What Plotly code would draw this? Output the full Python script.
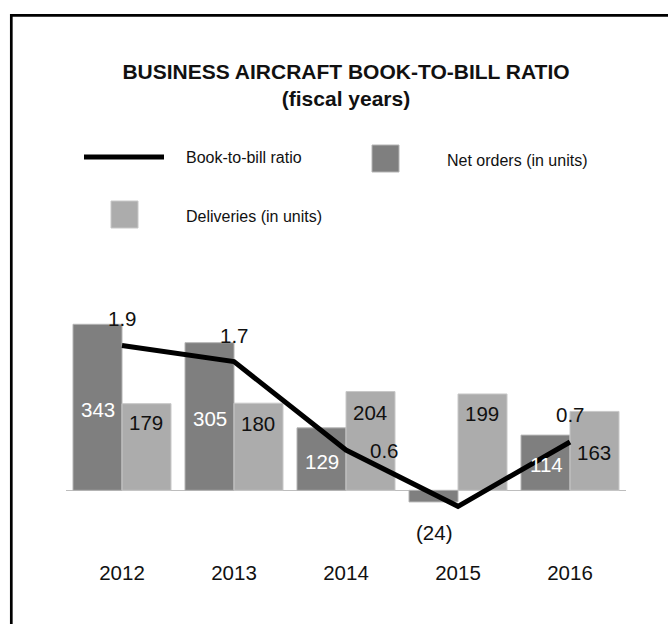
import plotly.graph_objects as go

# ---------------- data ----------------
years = ["2012", "2013", "2014", "2015", "2016"]
net_orders = [343, 305, 129, -24, 114]
deliveries = [179, 180, 204, 199, 163]
book_to_bill = [1.9, 1.7, 0.6, -0.1, 0.7]
ratio_labels = ["1.9", "1.7", "0.6", "", "0.7"]

# ---------------- layout constants (pixels) ----------------
W, H = 668, 624
PLOT_L, PLOT_R = 66, 626
PLOT_T, PLOT_B = 0, 558
Y0_PX, Y_SCALE = 490.3, 0.484       # zero line & px per unit (bars)
Y2_0_PX, Y2_SCALE = 498.3, 80.4     # zero & px per unit (ratio line)

FONT = "Liberation Sans, Arial, Helvetica, sans-serif"
DARK = "#7f7f7f"
LIGHT = "#acacac"
TXT = "#111111"


def pxx(p):
    return p / W


def pxy(p):
    return 1 - p / H


y_range = [-(PLOT_B - Y0_PX) / Y_SCALE, (Y0_PX - PLOT_T) / Y_SCALE]
y2_range = [-(PLOT_B - Y2_0_PX) / Y2_SCALE, (Y2_0_PX - PLOT_T) / Y2_SCALE]

fig = go.Figure()
fig.add_bar(x=years, y=net_orders, name="Net orders (in units)",
            marker=dict(color=DARK, line=dict(color="#b4b4b4", width=1)),
            showlegend=False, hoverinfo="skip")
fig.add_bar(x=years, y=deliveries, name="Deliveries (in units)",
            marker=dict(color=LIGHT, line=dict(color="#c8c8c8", width=1)),
            showlegend=False, hoverinfo="skip")
fig.add_scatter(x=years, y=book_to_bill, name="Book-to-bill ratio", mode="lines",
                line=dict(color="black", width=5), yaxis="y2",
                showlegend=False, hoverinfo="skip")

annotations = []
LBL = 20.5
# net orders labels (x given as category index)
for i, v in enumerate(net_orders):
    if v >= 0:
        annotations.append(dict(x=i, y=v / 2, xref="x", yref="y", text=str(v),
                                showarrow=False, xshift=-24, yshift=-2,
                                font=dict(family=FONT, size=LBL, color="white")))
    else:
        annotations.append(dict(x=i, y=v, xref="x", yref="y", text=f"({abs(v)})",
                                showarrow=False, xshift=-24, yshift=-31,
                                font=dict(family=FONT, size=LBL, color=TXT)))
# deliveries labels
deliv_shift = [19, 20, 21, 20, 41]
for i, (v, s) in enumerate(zip(deliveries, deliv_shift)):
    annotations.append(dict(x=i, y=v, xref="x", yref="y", text=str(v),
                            showarrow=False, xshift=24, yshift=-s,
                            font=dict(family=FONT, size=LBL, color=TXT)))
# ratio labels
ratio_off = [(0.5, 27), (0, 26.5), (38, 0), (0, 0), (0, 27.5)]
for i, (v, t, (dx, dy)) in enumerate(zip(book_to_bill, ratio_labels, ratio_off)):
    if t:
        annotations.append(dict(x=i, y=v, xref="x", yref="y2", text=t,
                                showarrow=False, xshift=dx, yshift=dy,
                                font=dict(family=FONT, size=LBL, color=TXT)))

# legend (manual)
LEG = 16
legend_items = [
    ("Book-to-bill ratio", 184, 157),
    ("Net orders (in units)", 445, 160),
    ("Deliveries (in units)", 184, 216),
]
for t, x, y in legend_items:
    annotations.append(dict(x=pxx(x), y=pxy(y), xref="paper", yref="paper", text=t,
                            showarrow=False, xanchor="left", yanchor="middle",
                            font=dict(family=FONT, size=LEG, color=TXT)))

shapes = [
    # outer frame (left + top edges visible)
    dict(type="rect", xref="paper", yref="paper", x0=pxx(11.3), x1=1.05,
         y0=-0.05, y1=pxy(15.3), line=dict(color="black", width=2.7),
         fillcolor="rgba(0,0,0,0)", layer="above"),
    # legend line
    dict(type="line", xref="paper", yref="paper", x0=pxx(84), x1=pxx(164),
         y0=pxy(157), y1=pxy(157), line=dict(color="black", width=5)),
    # legend dark square
    dict(type="rect", xref="paper", yref="paper", x0=pxx(372), x1=pxx(399),
         y0=pxy(172), y1=pxy(145), fillcolor=DARK, line=dict(color="#b4b4b4", width=1)),
    # legend light square
    dict(type="rect", xref="paper", yref="paper", x0=pxx(111), x1=pxx(138),
         y0=pxy(228), y1=pxy(201), fillcolor=LIGHT, line=dict(color="#c8c8c8", width=1)),
]

fig.update_layout(
    width=W, height=H,
    margin=dict(l=0, r=0, t=0, b=0, autoexpand=False),
    paper_bgcolor="white", plot_bgcolor="white",
    barmode="group", bargap=0.125, bargroupgap=0,
    showlegend=False,
    font=dict(family=FONT, color=TXT),
    title=dict(text="<b>BUSINESS AIRCRAFT BOOK-TO-BILL RATIO<br>(fiscal years)</b>",
               x=346 / W, xanchor="center", xref="container",
               y=pxy(79), yanchor="middle", yref="container",
               font=dict(family=FONT, size=21, color=TXT)),
    xaxis=dict(type="category", domain=[pxx(PLOT_L), pxx(PLOT_R)],
               range=[-0.5, len(years) - 0.5], autorange=False, automargin=False,
               showgrid=False, showline=False, ticks="", zeroline=False,
               tickfont=dict(family=FONT, size=20.5, color=TXT)),
    yaxis=dict(domain=[pxy(PLOT_B), pxy(PLOT_T)], range=y_range, autorange=False,
               automargin=False,
               showgrid=False, showline=False, ticks="", showticklabels=False,
               zeroline=True, zerolinecolor="#bdbdbd", zerolinewidth=1.2),
    yaxis2=dict(overlaying="y", range=y2_range, autorange=False, automargin=False,
                showgrid=False, showline=False,
                ticks="", showticklabels=False, zeroline=False),
    annotations=annotations,
    shapes=shapes,
)

fig.write_html("out.html", config={"displayModeBar": False})
